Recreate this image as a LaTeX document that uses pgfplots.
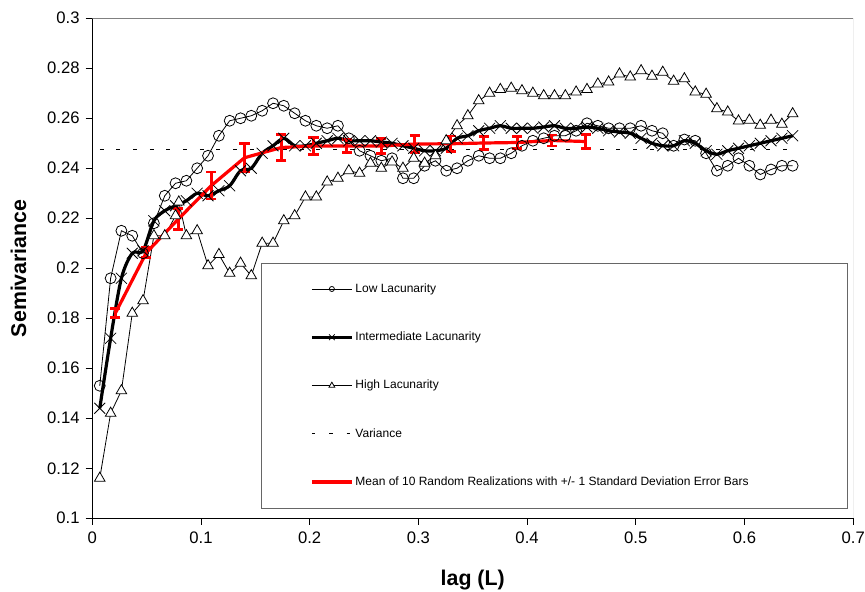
\documentclass[border=0pt]{standalone}
\usepackage{fontspec}
\setmainfont{Liberation Sans}
\usepackage{pgfplots}
\usepackage{pgfplotstable}
\pgfplotsset{compat=1.18}

% lag, low lacunarity, intermediate lacunarity
\pgfplotstableread{
x low inter
0.0069 0.153 0.144
0.0169 0.196 0.172
0.0268 0.215 0.196
0.0368 0.213 0.206
0.0467 0.206 0.207
0.0567 0.218 0.219
0.0667 0.229 0.223
0.0766 0.234 0.225
0.0866 0.235 0.227
0.0965 0.240 0.230
0.1065 0.245 0.229
0.1165 0.253 0.231
0.1264 0.259 0.233
0.1364 0.260 0.239
0.1463 0.261 0.240
0.1563 0.263 0.246
0.1663 0.266 0.249
0.1762 0.265 0.252
0.1862 0.262 0.249
0.1961 0.259 0.249
0.2061 0.257 0.250
0.2161 0.256 0.251
0.2260 0.257 0.252
0.2360 0.252 0.251
0.2459 0.247 0.251
0.2559 0.245 0.251
0.2659 0.243 0.2505
0.2758 0.244 0.250
0.2858 0.236 0.249
0.2957 0.236 0.248
0.3057 0.241 0.247
0.3157 0.243 0.247
0.3256 0.239 0.248
0.3356 0.240 0.252
0.3455 0.243 0.253
0.3555 0.245 0.255
0.3655 0.244 0.256
0.3754 0.244 0.257
0.3854 0.246 0.256
0.3953 0.249 0.256
0.4053 0.251 0.256
0.4153 0.252 0.2565
0.4252 0.253 0.257
0.4352 0.253 0.256
0.4451 0.255 0.256
0.4551 0.258 0.2565
0.4651 0.257 0.256
0.4750 0.256 0.255
0.4850 0.256 0.2545
0.4949 0.256 0.254
0.5049 0.257 0.252
0.5149 0.255 0.250
0.5248 0.254 0.249
0.5348 0.249 0.249
0.5447 0.2515 0.251
0.5547 0.251 0.250
0.5647 0.246 0.247
0.5746 0.239 0.2456
0.5846 0.241 0.247
0.5945 0.244 0.248
0.6045 0.241 0.249
0.6145 0.2375 0.250
0.6244 0.2395 0.251
0.6344 0.241 0.252
0.6443 0.241 0.253
}\lacdata

\pgfplotstableread{
x high
0.0069 0.116
0.0169 0.142
0.0268 0.151
0.0368 0.182
0.0467 0.187
0.0567 0.213
0.0667 0.213
0.0766 0.221
0.0796 0.2265
0.0866 0.213
0.0965 0.215
0.1065 0.201
0.1165 0.2055
0.1264 0.198
0.1364 0.202
0.1463 0.197
0.1563 0.210
0.1663 0.210
0.1762 0.219
0.1862 0.221
0.1961 0.2285
0.2061 0.2285
0.2161 0.2345
0.2260 0.236
0.2360 0.239
0.2459 0.238
0.2559 0.242
0.2659 0.240
0.2758 0.2425
0.2858 0.240
0.2957 0.244
0.3057 0.242
0.3157 0.245
0.3256 0.251
0.3356 0.257
0.3455 0.261
0.3555 0.267
0.3655 0.270
0.3754 0.2715
0.3854 0.272
0.3953 0.271
0.4053 0.270
0.4153 0.269
0.4252 0.269
0.4352 0.269
0.4451 0.2705
0.4551 0.2715
0.4651 0.2737
0.4750 0.2745
0.4850 0.2777
0.4949 0.2765
0.5049 0.279
0.5149 0.2768
0.5248 0.2784
0.5348 0.2748
0.5447 0.2758
0.5547 0.2705
0.5647 0.2696
0.5746 0.2638
0.5846 0.2625
0.5945 0.2589
0.6045 0.2592
0.6145 0.2572
0.6244 0.2592
0.6344 0.2576
0.6443 0.2618
}\highdata

% mean of 10 random realizations, +/- 1 sd
\pgfplotstableread{
x y err
0.0212 0.1820 0.0018
0.0497 0.2062 0.0020
0.0792 0.2197 0.0042
0.1096 0.2331 0.0054
0.1400 0.2442 0.0057
0.1740 0.2483 0.0052
0.2035 0.2489 0.0035
0.2340 0.2489 0.0027
0.2660 0.2489 0.0030
0.2966 0.2497 0.0033
0.3297 0.2498 0.0031
0.3600 0.2501 0.0025
0.3910 0.2503 0.0023
0.4228 0.2511 0.0022
0.4540 0.2507 0.0028
}\meandata

\begin{document}
\begin{tikzpicture}
\begin{axis}[
    scale only axis,
    width=570.7pt, height=375pt,
    xmin=0, xmax=0.7, ymin=0.1, ymax=0.3,
    xtick={0,0.1,0.2,0.3,0.4,0.5,0.6,0.7},
    ytick={0.1,0.12,0.14,0.16,0.18,0.2,0.22,0.24,0.26,0.28,0.3},
    scaled ticks=false,
    axis x line*=bottom, axis y line*=left,
    axis line style={black, line width=0.7pt, -},
    tick align=outside, major tick length=5pt,
    tick style={black, line width=0.7pt},
    /pgf/number format/fixed, /pgf/number format/precision=2,
    /pgf/number format/assume math mode=true,
    tick label style={font=\fontsize{12.5}{14}\selectfont},
    xticklabel style={yshift=-2pt},
    yticklabel style={xshift=-1pt},
    xlabel={\textbf{lag (L)}},
    ylabel={\textbf{Semivariance}},
    label style={font=\fontsize{16}{18}\selectfont},
    xlabel style={at={(axis description cs:0.5,-0.124)}, anchor=center},
    ylabel style={at={(axis description cs:-0.097,0.5)}, anchor=center},
    legend cell align=left,
    legend image code/.code={\draw[mark repeat=2,mark phase=2,#1] plot coordinates {(0pt,0pt) (15pt,0pt) (30pt,0pt)};},
    legend style={draw=none, fill=none, at={(axis cs:0.2003,0.1531)}, anchor=west,
        font=\fontsize{9}{10.5}\selectfont, inner sep=0pt, row sep=27.2pt,
        nodes={inner ysep=0pt, inner xsep=1.5pt, text height=7pt, text depth=2pt}},
]
\coordinate (sw) at (rel axis cs:0,0);
\draw[black!50, line width=0.7pt] (rel axis cs:0,1) -- (rel axis cs:1,1) -- (rel axis cs:1,0);

\addplot[black, line width=0.6pt, mark=o, mark size=4.1pt, mark options={solid}, forget plot]
    table[x=x, y=low] {\lacdata};
\addplot[black, line width=2.4pt, smooth, mark=x, mark size=5.8pt, mark options={line width=0.6pt}, forget plot]
    table[x=x, y=inter] {\lacdata};
\addplot[black, line width=0.6pt, mark=triangle*, mark size=4.6pt, mark options={fill=white, solid}, forget plot]
    table[x=x, y=high] {\highdata};
\addplot[black, line width=0.6pt, dash pattern=on 3pt off 9.5pt, forget plot]
    coordinates {(0.0069,0.2476) (0.6443,0.2476)};
\addplot[red, line width=2.4pt, mark=none, forget plot,
    error bars/.cd, y dir=both, y explicit,
    error bar style={red, line width=2.2pt},
    error mark options={rotate=90, red, mark size=3.8pt, line width=2.2pt}]
    table[x=x, y=y, y error=err] {\meandata};

\draw[black!60, line width=0.7pt, fill=white] (axis cs:0.1561,0.1041) rectangle (axis cs:0.6951,0.2021);

\addlegendimage{black, line width=0.6pt, mark=o, mark size=1.9pt}
\addlegendentry{Low Lacunarity}
\addlegendimage{black, line width=2.4pt, mark=x, mark size=3pt, mark options={line width=0.6pt}}
\addlegendentry{Intermediate Lacunarity}
\addlegendimage{black, line width=0.6pt, mark=triangle*, mark size=2.5pt, mark options={fill=white}}
\addlegendentry{High Lacunarity}
\addlegendimage{black, line width=0.6pt, dash pattern=on 2.5pt off 10.5pt}
\addlegendentry{Variance}
\addlegendimage{red, line width=2.4pt}
\addlegendentry{Mean of 10 Random Realizations with +/- 1 Standard Deviation Error Bars}
\end{axis}
\pgfresetboundingbox
\path[use as bounding box] ([shift={(-69.2pt,-55.3pt)}]sw) rectangle ([shift={(579.55pt,388.7pt)}]sw);
\end{tikzpicture}
\end{document}
